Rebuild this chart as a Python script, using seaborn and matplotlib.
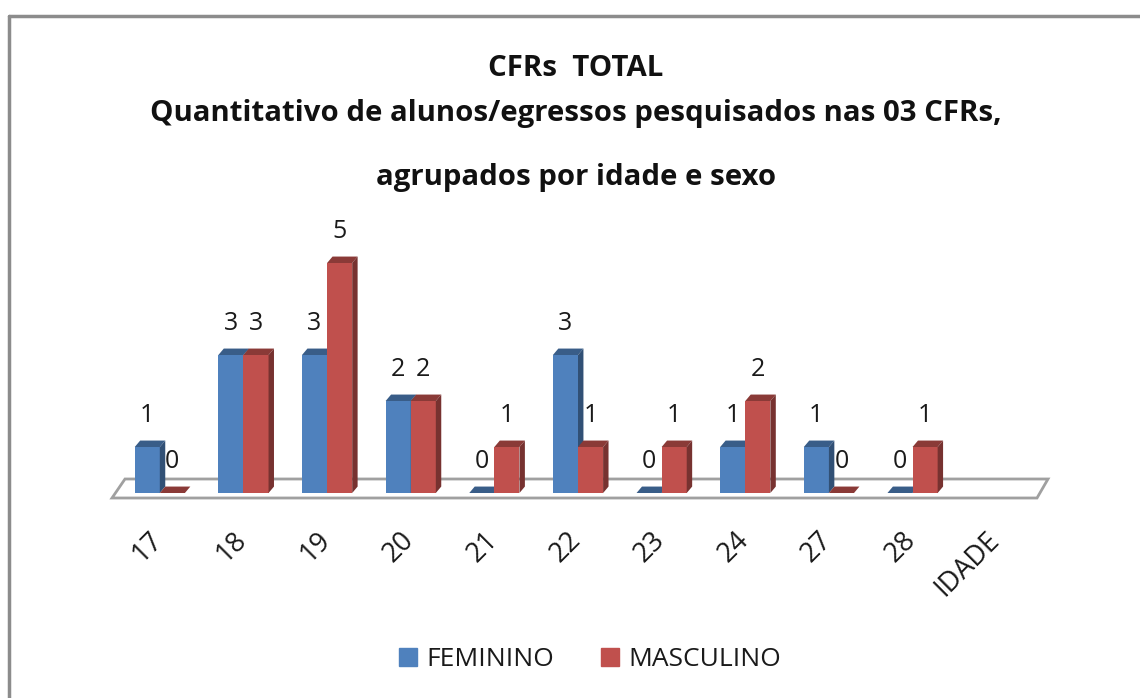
import numpy as np
import pandas as pd
import seaborn as sns
import matplotlib
matplotlib.use("Agg")
import matplotlib.pyplot as plt
from matplotlib.patches import Polygon
from matplotlib.lines import Line2D
import matplotlib.colors as mcolors

categories = ["17", "18", "19", "20", "21", "22", "23", "24", "27", "28", "IDADE"]
feminino = [1, 3, 3, 2, 0, 3, 0, 1, 1, 0, np.nan]
masculino = [0, 3, 5, 2, 1, 1, 1, 2, 0, 1, np.nan]
series_names = ["FEMININO", "MASCULINO"]
colors = ["#4F81BD", "#C0504D"]
title_lines = ["CFRs  TOTAL",
               "Quantitativo de alunos/egressos pesquisados nas 03 CFRs,",
               "agrupados por idade e sexo"]

df = pd.DataFrame({
    "idade": categories * 2,
    "valor": feminino + masculino,
    "sexo": [series_names[0]] * len(categories) + [series_names[1]] * len(categories),
})

sns.set_theme(style="white")
plt.rcParams["font.family"] = ["Open Sans", "DejaVu Sans"]

W, H = 1140, 698
fig = plt.figure(figsize=(W / 100, H / 100), dpi=100)

def fx(px):
    return px / W

def fy(py):
    return 1 - py / H

ax_left, ax_right = 118, 1038
ax_bottom, ax_top = 493, 217
ax = fig.add_axes([fx(ax_left), fy(ax_bottom), fx(ax_right - ax_left), (ax_bottom - ax_top) / H])

sns.barplot(data=df, x="idade", y="valor", hue="sexo", order=categories,
            hue_order=series_names, palette=colors, width=0.6, ax=ax,
            legend=False, saturation=1, linewidth=0, errorbar=None)
ax.set_xlim(-0.5, len(categories) - 0.5)
ax.set_ylim(0, 6)
ax.set_axis_off()

# floor parallelogram (figure pixel coords)
floor = Polygon([(fx(112), fy(498)), (fx(1037), fy(498)), (fx(1048), fy(479)), (fx(125), fy(479))],
                closed=True, transform=fig.transFigure, facecolor="white",
                edgecolor="#A0A0A0", linewidth=2.0, zorder=0)
fig.add_artist(floor)

# pseudo-3D faces
dx, dy = 0.065, 0.14
txt_color = "#1a1a1a"
for g, cont in enumerate(ax.containers):
    base = np.array(mcolors.to_rgb(colors[g]))
    dark = tuple(base * 0.72)
    side = tuple(base * 0.62)
    z = 2 + 2 * g
    for p in cont.patches:
        x, y, w, h = p.get_x(), p.get_y(), p.get_width(), p.get_height()
        if np.isnan(h):
            continue
        p.set_zorder(z)
        top = Polygon([(x, y + h), (x + w, y + h), (x + w + dx, y + h + dy), (x + dx, y + h + dy)],
                      closed=True, facecolor=dark, edgecolor="none", zorder=z + 0.5)
        sd = Polygon([(x + w, y), (x + w + dx, y + dy), (x + w + dx, y + h + dy), (x + w, y + h)],
                     closed=True, facecolor=side, edgecolor="none", zorder=z + 0.5)
        ax.add_patch(top)
        ax.add_patch(sd)
        if h == 0:
            p.set_visible(False)
        ax.text(x + w / 2, h + 0.68, f"{int(h)}", ha="center", va="center",
                fontsize=18, color=txt_color, zorder=10, clip_on=False)

# x tick labels (rotated)
for i, c in enumerate(categories):
    ax.text(i - 0.13, -0.72, c, rotation=45, ha="right", va="top",
            rotation_mode="anchor", fontsize=19.5, color=txt_color, clip_on=False)

# titles
for ypx, t in zip([68, 113, 178], title_lines):
    fig.text(fx(576), fy(ypx), t, ha="center", va="center", fontsize=21.2,
             fontweight="bold", color="#111111")

# legend
handles = [Line2D([0], [0], marker="s", color="none", markerfacecolor=c, markeredgecolor=c,
                  markersize=13) for c in colors]
fig.legend(handles, series_names, loc="center", bbox_to_anchor=(fx(588), fy(660)), ncol=2,
           frameon=False, fontsize=19, handletextpad=0.2, columnspacing=1.6, handlelength=1.0,
           labelcolor=txt_color)

# outer border (top and left)
fig.add_artist(Line2D([fx(9), fx(1140)], [fy(16), fy(16)], transform=fig.transFigure,
                      color="#8C8C8C", linewidth=2.5))
fig.add_artist(Line2D([fx(9), fx(9)], [fy(16), fy(698)], transform=fig.transFigure,
                      color="#8C8C8C", linewidth=2.5))

fig.savefig("out.png", dpi=100)
